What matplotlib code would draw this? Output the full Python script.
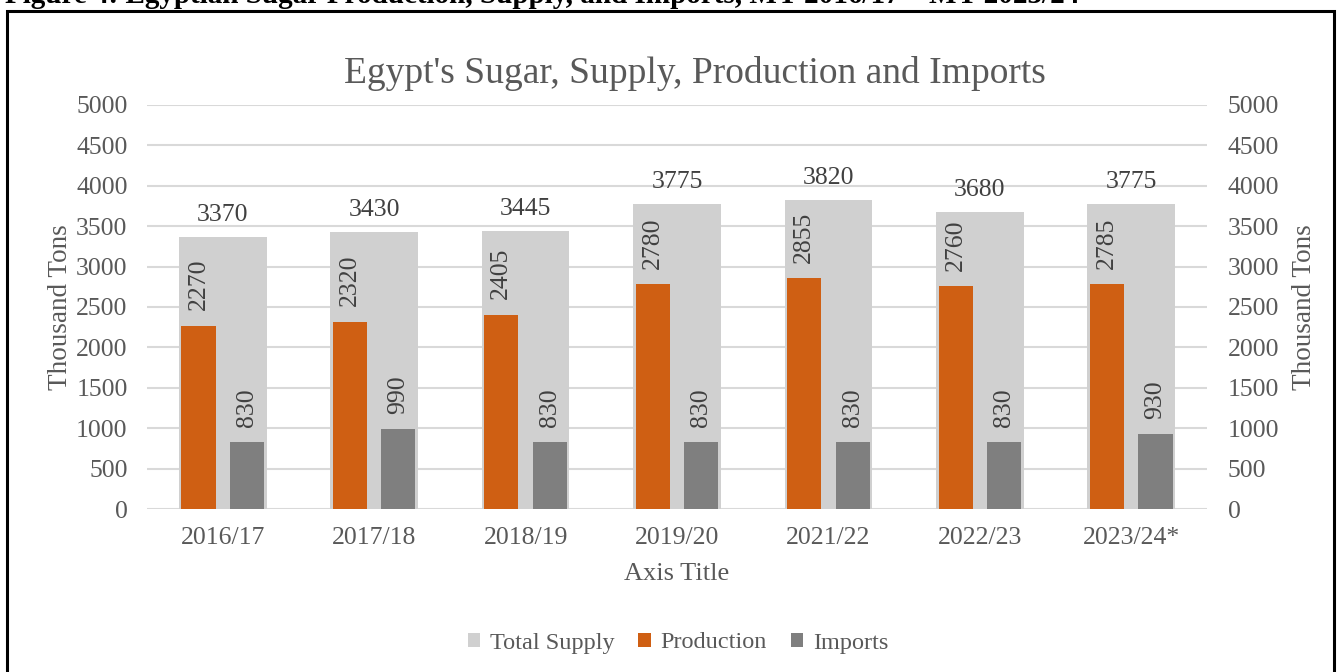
import numpy as np
import matplotlib.pyplot as plt
from matplotlib.patches import Rectangle

years = ['2016/17', '2017/18', '2018/19', '2019/20', '2021/22', '2022/23', '2023/24*']
supply = [3370, 3430, 3445, 3775, 3820, 3680, 3775]
production = [2270, 2320, 2405, 2780, 2855, 2760, 2785]
imports = [830, 990, 830, 830, 830, 830, 930]

plt.rcParams['font.family'] = ['Liberation Serif', 'DejaVu Serif']
txt = '#595959'
c_sup, c_prod, c_imp = '#d0d0d0', '#cf5f13', '#7f7f7f'
fs = 18.5

fig = plt.figure(figsize=(13.4, 6.72), dpi=100)
ax = fig.add_axes([147/1340, 1-509/672, 1060/1340, 404/672])
x = np.arange(len(years))

ax.bar(x, supply, width=0.58, color=c_sup, label='Total Supply', zorder=2)
ax.bar(x-0.16, production, width=0.225, color=c_prod, label='Production', zorder=3)
ax.bar(x+0.16, imports, width=0.225, color=c_imp, label='Imports', zorder=3)

for i in range(len(years)):
    ax.annotate(str(supply[i]), (x[i], supply[i]), xytext=(0, 8), textcoords='offset points',
                ha='center', va='bottom', fontsize=fs, color='#404040')
    ax.annotate(str(production[i]), (x[i]-0.16, production[i]), xytext=(0, 11), textcoords='offset points',
                ha='center', va='bottom', rotation=90, fontsize=fs, color='#404040')
    ax.annotate(str(imports[i]), (x[i]+0.16, imports[i]), xytext=(0, 11), textcoords='offset points',
                ha='center', va='bottom', rotation=90, fontsize=fs, color='#404040')

ax.set_xlim(-0.5, len(years)-0.5)
ax.set_ylim(0, 5000)
ax.set_yticks(np.arange(0, 5001, 500))
ax.set_xticks(x)
ax.set_xticklabels(years)
ax.grid(axis='y', color='#d9d9d9', linewidth=1.5, zorder=0)
ax.set_axisbelow(True)
for s in ax.spines.values():
    s.set_visible(False)
ax.tick_params(length=0, labelsize=fs, labelcolor=txt, pad=14)
ax.tick_params(axis='x', pad=13)
ax.set_xlabel('Axis Title', fontsize=19, color=txt, labelpad=10)
ax.set_ylabel('Thousand Tons', fontsize=19.5, color=txt, labelpad=2)
ax.set_title("Egypt's Sugar, Supply, Production and Imports", fontsize=27, color=txt, pad=16, x=0.517)

ax2 = ax.twinx()
ax2.set_ylim(0, 5000)
ax2.set_yticks(np.arange(0, 5001, 500))
for s in ax2.spines.values():
    s.set_visible(False)
ax2.tick_params(length=0, labelsize=fs, labelcolor=txt, pad=15)
ax2.set_ylabel('Thousand Tons', fontsize=19.5, color=txt, rotation=90, labelpad=9)

fig.legend(loc='center', bbox_to_anchor=(678/1340, 1-643/672), ncol=3, frameon=False,
           fontsize=17.5, labelcolor=txt, handlelength=0.5, handleheight=0.5,
           handletextpad=0.4, columnspacing=1.0)

fig.add_artist(Rectangle((7/1340, -0.05), 1327/1340, 1.05-11/672, transform=fig.transFigure,
                         fill=False, edgecolor='black', linewidth=2.2, clip_on=False))
fig.text(5/1340, 1-3/672, 'Figure 4: Egyptian Sugar Production, Supply, and Imports, MY 2016/17 \u2013 MY 2023/24',
         fontsize=21, fontweight='bold', ha='left', va='baseline', color='black')

fig.savefig('out.png', dpi=100)
